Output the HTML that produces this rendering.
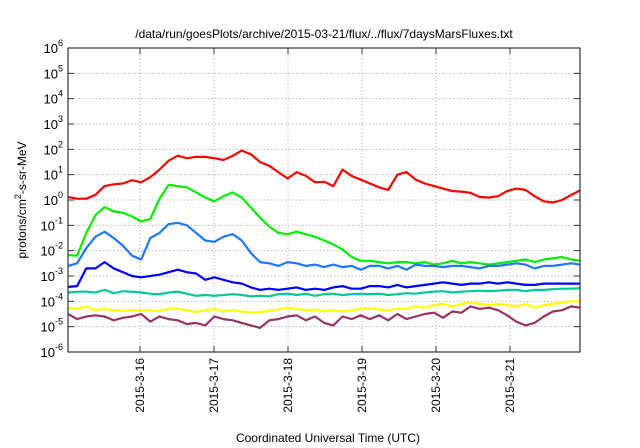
<!DOCTYPE html>
<html><head><meta charset="utf-8"><style>
html,body{margin:0;padding:0;background:#fff}
svg{display:block;font-family:"Liberation Sans",sans-serif}
</style></head><body>
<svg id="chart" width="640" height="448" viewBox="0 0 640 448">
<text x="324" y="38" font-size="12" text-anchor="middle" fill="#000">/data/run/goesPlots/archive/2015-03-21/flux/../flux/7daysMarsFluxes.txt</text>
<text x="328" y="442" font-size="12" text-anchor="middle" fill="#000">Coordinated Universal Time (UTC)</text>
<text transform="translate(26,200) rotate(-90)" font-size="12" text-anchor="middle" fill="#000">protons/cm<tspan dy="-5" font-size="9">2</tspan><tspan dy="5">-s-sr-MeV</tspan></text>
<g id="grid"></g><g id="axes"></g><g id="series"></g>
<rect x="68" y="48" width="512" height="304" fill="none" stroke="#333" stroke-width="1.2"/>
</svg>
<script>
const dayTicks = [16,17,18,19,20,21];
const dayLabels = ["2015-3-16","2015-3-17","2015-3-18","2015-3-19","2015-3-20","2015-3-21"];
const decadeTicks = [-6,-5,-4,-3,-2,-1,0,1,2,3,4,5,6];
const tStart = 15.027, tStep = 0.12364;
const seriesColors = ["#ff0000","#00ee00","#1e78ff","#0000ff","#00c896","#ffff00","#993366"];
const seriesNames = ["red","green","light-blue","blue","teal","yellow","purple"];
const redLog = [0.12,0.05,0.05,0.2,0.55,0.62,0.65,0.78,0.7,0.9,1.2,1.55,1.75,1.65,1.7,1.7,1.65,1.58,1.75,1.95,1.8,1.5,1.35,1.1,0.85,1.1,0.95,0.7,0.72,0.55,1.2,0.95,0.8,0.65,0.5,0.4,1.0,1.1,0.8,0.65,0.55,0.45,0.35,0.33,0.28,0.12,0.1,0.15,0.35,0.45,0.4,0.15,-0.05,-0.1,0.0,0.2,0.38];
const greenLog = [-2.17,-2.2,-1.3,-0.6,-0.28,-0.45,-0.5,-0.65,-0.85,-0.75,0.05,0.6,0.55,0.5,0.3,0.1,-0.05,0.15,0.3,0.1,-0.3,-0.7,-1.05,-1.3,-1.35,-1.25,-1.35,-1.45,-1.6,-1.75,-1.95,-2.25,-2.4,-2.4,-2.45,-2.5,-2.45,-2.45,-2.5,-2.45,-2.55,-2.5,-2.4,-2.5,-2.45,-2.5,-2.55,-2.5,-2.45,-2.4,-2.35,-2.45,-2.35,-2.3,-2.25,-2.35,-2.4];
const lightBlueLog = [-2.6,-2.5,-1.9,-1.45,-1.25,-1.5,-1.8,-2.2,-2.35,-1.5,-1.3,-0.95,-0.9,-1.0,-1.3,-1.6,-1.65,-1.45,-1.35,-1.6,-2.1,-2.45,-2.5,-2.6,-2.45,-2.5,-2.6,-2.55,-2.65,-2.55,-2.65,-2.6,-2.75,-2.6,-2.6,-2.7,-2.6,-2.75,-2.55,-2.6,-2.6,-2.65,-2.6,-2.6,-2.65,-2.7,-2.6,-2.6,-2.55,-2.5,-2.55,-2.7,-2.6,-2.6,-2.55,-2.5,-2.55];
const blueLog = [-3.43,-3.4,-2.7,-2.7,-2.45,-2.7,-2.85,-3.0,-3.05,-3.0,-2.95,-2.85,-2.75,-2.85,-2.9,-3.15,-3.05,-3.15,-3.25,-3.3,-3.45,-3.55,-3.5,-3.55,-3.5,-3.45,-3.55,-3.5,-3.55,-3.45,-3.4,-3.5,-3.5,-3.4,-3.4,-3.45,-3.35,-3.45,-3.4,-3.35,-3.3,-3.25,-3.3,-3.35,-3.3,-3.3,-3.25,-3.3,-3.25,-3.3,-3.35,-3.35,-3.3,-3.3,-3.3,-3.3,-3.3];
const tealLog = [-3.65,-3.62,-3.62,-3.65,-3.55,-3.68,-3.6,-3.62,-3.65,-3.7,-3.72,-3.65,-3.62,-3.7,-3.78,-3.75,-3.78,-3.75,-3.72,-3.75,-3.8,-3.78,-3.8,-3.72,-3.7,-3.75,-3.7,-3.78,-3.72,-3.7,-3.75,-3.72,-3.7,-3.72,-3.7,-3.75,-3.72,-3.68,-3.7,-3.65,-3.62,-3.6,-3.65,-3.62,-3.6,-3.58,-3.6,-3.58,-3.55,-3.55,-3.6,-3.55,-3.55,-3.52,-3.5,-3.5,-3.48];
const yellowLog = [-4.25,-4.3,-4.2,-4.35,-4.3,-4.35,-4.38,-4.35,-4.35,-4.35,-4.38,-4.3,-4.3,-4.35,-4.42,-4.35,-4.3,-4.4,-4.35,-4.4,-4.45,-4.42,-4.38,-4.32,-4.25,-4.3,-4.35,-4.32,-4.4,-4.35,-4.4,-4.35,-4.3,-4.28,-4.32,-4.35,-4.3,-4.3,-4.2,-4.25,-4.15,-4.1,-4.2,-4.1,-4.05,-4.1,-4.15,-4.1,-4.15,-4.2,-4.1,-4.25,-4.15,-4.1,-4.05,-4.0,-4.0];
const purpleLog = [-4.5,-4.7,-4.6,-4.55,-4.6,-4.75,-4.65,-4.6,-4.5,-4.8,-4.6,-4.7,-4.75,-4.9,-4.85,-4.95,-4.6,-4.7,-4.75,-4.85,-4.95,-5.05,-4.75,-4.7,-4.6,-4.55,-4.75,-4.6,-4.85,-4.95,-4.6,-4.7,-4.55,-4.7,-4.55,-4.75,-4.5,-4.7,-4.6,-4.5,-4.45,-4.65,-4.4,-4.45,-4.2,-4.3,-4.25,-4.35,-4.55,-4.8,-4.95,-4.85,-4.6,-4.4,-4.35,-4.2,-4.25];

const NS = "http://www.w3.org/2000/svg";
const L = 68, R = 580, T = 48, B = 352;
const x0 = 15.027, x1 = 21.946;
function xScale(t){ return L + (t - x0) / (x1 - x0) * (R - L); }
function yScale(lg){ return B - (lg + 6) / 12 * (B - T); }
function mk(tag, attrs, parent){ const e = document.createElementNS(NS, tag); for (const k in attrs) e.setAttribute(k, attrs[k]); parent.appendChild(e); return e; }
const grid = document.getElementById('grid'), axes = document.getElementById('axes'), ser = document.getElementById('series');

decadeTicks.forEach(d => {
  const y = yScale(d);
  if (d > -6 && d < 6) {
    const g = mk('line', {x1:L, x2:R, y1:y, y2:y, stroke:'#bbb', 'stroke-width':1, 'stroke-dasharray':'1.5,2'}, grid);
    
    
  }
  const tk = mk('path', {d:`M${L} ${y}h6M${R} ${y}h-6`, stroke:'#333', 'stroke-width':1}, axes);
  
  
  const t = mk('text', {x:L-6, y:y+5, 'font-size':13, 'text-anchor':'end', fill:'#000'}, axes);
  
  
  const exp = String(d).replace('-', '-');
  t.innerHTML = `<tspan dx="0">10</tspan><tspan dy="-7" font-size="9">${exp}</tspan>`;
  // right-align: adjust by measuring
  t.setAttribute('text-anchor','start');
  const w = t.getBBox().width;
  t.setAttribute('x', L - 5 - w);
});

dayTicks.forEach((d, i) => {
  const x = xScale(d);
  const g = mk('line', {x1:x, x2:x, y1:T, y2:B, stroke:'#bbb', 'stroke-width':1, 'stroke-dasharray':'1.5,2'}, grid);
  
  
  const tk = mk('path', {d:`M${x} ${B}v-6M${x} ${T}v6`, stroke:'#333', 'stroke-width':1}, axes);
  
  
  const t = mk('text', {transform:`translate(${x+4},${B+6}) rotate(-90)`, 'font-size':12, 'text-anchor':'end', fill:'#000'}, axes);
  
  
  t.textContent = dayLabels[i];
});

const allSeries = [redLog, greenLog, lightBlueLog, blueLog, tealLog, yellowLog, purpleLog];
allSeries.forEach((vals, si) => {
  const pts = vals.map((v, i) => `${xScale(tStart + i * tStep).toFixed(1)},${yScale(v).toFixed(1)}`).join(' ');
  const p = mk('polyline', {points:pts, fill:'none', stroke:seriesColors[si], 'stroke-width':2.2, 'stroke-linejoin':'round'}, ser);
  
  
});
</script>
</body></html>
